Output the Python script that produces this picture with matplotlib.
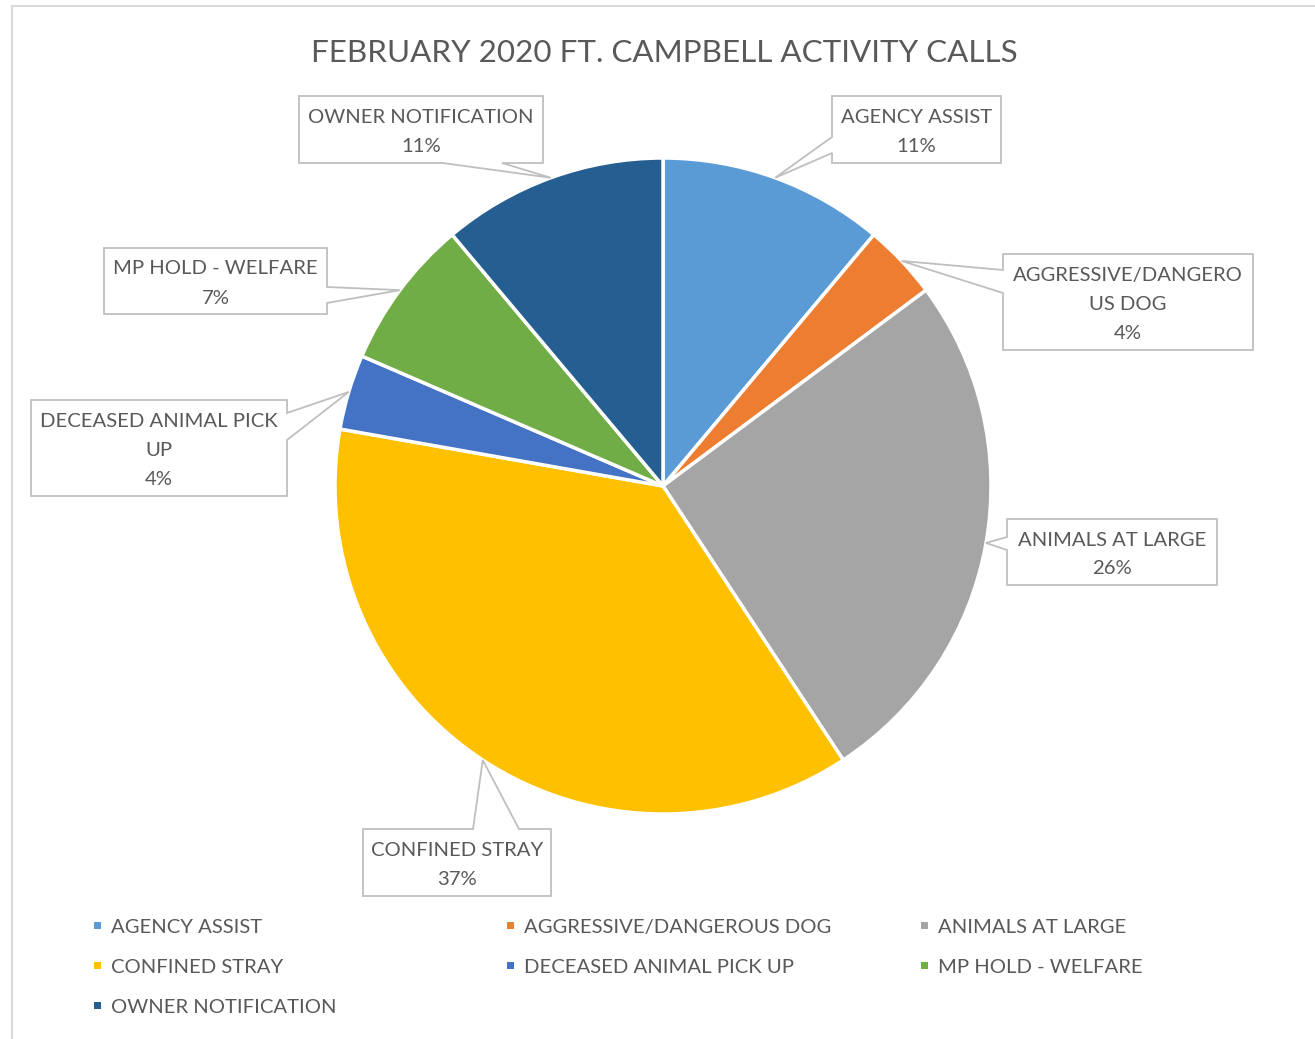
import numpy as np
import matplotlib
matplotlib.use('Agg')
import matplotlib.pyplot as plt
from matplotlib.patches import Polygon, Rectangle

# data
categories = ['AGENCY ASSIST', 'AGGRESSIVE/DANGEROUS DOG', 'ANIMALS AT LARGE',
              'CONFINED STRAY', 'DECEASED ANIMAL PICK UP', 'MP HOLD - WELFARE',
              'OWNER NOTIFICATION']
calls = [3, 1, 7, 10, 1, 2, 3]
colors = ['#5B9BD5', '#ED7D31', '#A5A5A5', '#FFC000', '#4472C4', '#70AD47', '#255E91']
# category names as they wrap inside the callouts
callout_names = ['AGENCY ASSIST', 'AGGRESSIVE/DANGERO\nUS DOG', 'ANIMALS AT LARGE',
                 'CONFINED STRAY', 'DECEASED ANIMAL PICK\nUP', 'MP HOLD - WELFARE',
                 'OWNER NOTIFICATION']
title = 'FEBRUARY 2020 FT. CAMPBELL ACTIVITY CALLS'

# layout (pixels, y down): callout box x0, y0, x1, y1, pointer side, pointer base
boxes = [
    (832, 96, 1001, 163, 'left', (137, 153)),
    (1003, 254, 1253, 350, 'left', (270, 293)),
    (1007, 519, 1217, 585, 'left', (537, 550)),
    (363, 829, 551, 896, 'top', (473, 519)),
    (31, 400, 287, 496, 'right', (413, 440)),
    (104, 248, 327, 314, 'right', (287, 303)),
    (299, 96, 543, 163, 'bottom', (443, 502)),
]

W, H = 1315, 1039
text_col = '#595959'
fam = ['Lato', 'DejaVu Sans']
fs = 14.6
dy = 2.5  # nudge text down a little, Lato sits high with va='center'

fig = plt.figure(figsize=(W / 100, H / 100), dpi=100)
ax = fig.add_axes([0, 0, 1, 1])

cx, cy, r = 663, 486, 328
wedges, _ = ax.pie(calls, colors=colors, startangle=-90, counterclock=True,
                   center=(cx, cy), radius=r,
                   wedgeprops=dict(edgecolor='white', linewidth=2.5))
ax.set_xlim(0, W)
ax.set_ylim(H, 0)
ax.axis('off')

# chart frame (top and left edge visible)
ax.plot([12, 12, W], [H, 6, 6], color='#D9D9D9', lw=1.5, solid_joinstyle='miter')

ax.text(664, 50 + dy, title, ha='center', va='center', fontsize=22.6,
        color=text_col, family=fam)


def callout(x0, y0, x1, y1, side, base, tip):
    b1, b2 = base
    tl, tr, br, bl = (x0, y0), (x1, y0), (x1, y1), (x0, y1)
    if side == 'top':
        pts = [tl, (b1, y0), tip, (b2, y0), tr, br, bl]
    elif side == 'right':
        pts = [tl, tr, (x1, b1), tip, (x1, b2), br, bl]
    elif side == 'bottom':
        pts = [tl, tr, br, (b2, y1), tip, (b1, y1), bl]
    else:
        pts = [tl, tr, br, bl, (x0, b2), tip, (x0, b1)]
    return Polygon(pts, closed=True, facecolor='white', edgecolor='#BFBFBF',
                   lw=1.3, zorder=3)


total = sum(calls)
for w, name, v, b in zip(wedges, callout_names, calls, boxes):
    x0, y0, x1, y1, side, base = b
    mid = np.deg2rad((w.theta1 + w.theta2) / 2)
    tip = (cx + r * np.cos(mid), cy + r * np.sin(mid))
    ax.add_patch(callout(x0, y0, x1, y1, side, base, tip))
    lines = name.split('\n') + ['{:.0f}%'.format(100 * v / total)]
    n = len(lines)
    for i, s in enumerate(lines):
        ax.text((x0 + x1) / 2, (y0 + y1) / 2 + (i - (n - 1) / 2) * 29 + dy, s,
                ha='center', va='center', fontsize=fs, color=text_col,
                family=fam, zorder=4)

# legend, three per row
col_x = [98, 511, 925]
row_y = [925, 965, 1005]
for i, (name, c) in enumerate(zip(categories, colors)):
    lx, ly = col_x[i % 3], row_y[i // 3]
    ax.add_patch(Rectangle((lx - 3.5, ly - 3.5), 7, 7, facecolor=c, edgecolor='none'))
    ax.text(lx + 13, ly + dy, name, ha='left', va='center', fontsize=fs,
            color=text_col, family=fam)

fig.savefig('out.png', dpi=100)
